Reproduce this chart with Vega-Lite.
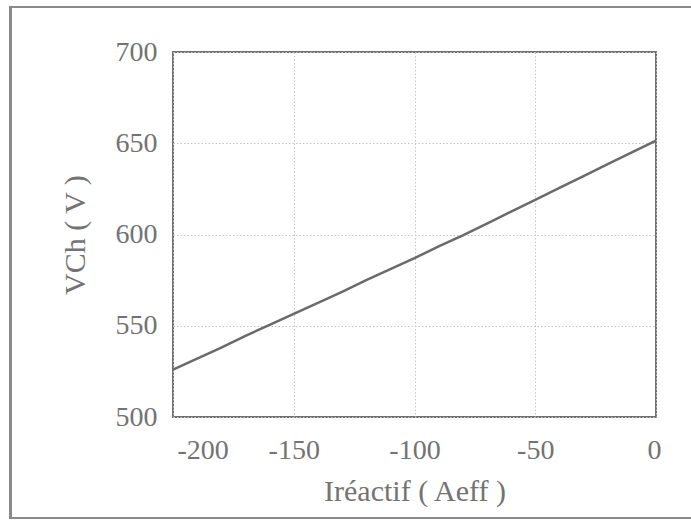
{
  "$schema": "https://vega.github.io/schema/vega-lite/v6.json",
  "width": 483,
  "height": 365,
  "autosize": {"type": "none"},
  "padding": {"left": 173, "top": 52, "right": 35, "bottom": 104},
  "background": "white",
  "config": {
    "view": {"stroke": "#707070", "strokeWidth": 2},
    "font": "Liberation Serif",
    "axis": {
      "labelFont": "Liberation Serif",
      "titleFont": "Liberation Serif",
      "labelColor": "#737373",
      "titleColor": "#737373",
      "labelFontSize": 28,
      "titleFontSize": 30,
      "titleFontWeight": "normal",
      "ticks": false,
      "domain": false,
      "grid": true,
      "gridColor": "#c4c4c4",
      "gridOpacity": 1,
      "gridDash": [1.5, 2],
      "gridWidth": 1
    }
  },
  "data": {
    "values": [
      {"I": -200, "V": 526},
      {"I": -190, "V": 532},
      {"I": -180, "V": 538},
      {"I": -170, "V": 544.5},
      {"I": -160, "V": 550.5},
      {"I": -150, "V": 556.5},
      {"I": -140, "V": 562.5},
      {"I": -130, "V": 568.5},
      {"I": -120, "V": 575},
      {"I": -110, "V": 581},
      {"I": -100, "V": 587},
      {"I": -90, "V": 593.5},
      {"I": -80, "V": 599.5},
      {"I": -70, "V": 606},
      {"I": -60, "V": 612.5},
      {"I": -50, "V": 619},
      {"I": -40, "V": 625.5},
      {"I": -30, "V": 632},
      {"I": -20, "V": 638.5},
      {"I": -10, "V": 645},
      {"I": 0, "V": 651.5}
    ]
  },
  "layer": [
    {
      "mark": {"type": "rect", "fill": null, "stroke": "#8a8a8a", "strokeWidth": 2, "clip": false},
      "encoding": {
        "x": {"datum": -267.3, "type": "quantitative"},
        "x2": {"datum": 220},
        "y": {"datum": 724.7, "type": "quantitative"},
        "y2": {"datum": 444.7}
      }
    },
    {
      "mark": {"type": "line", "color": "#6a6a6a", "strokeWidth": 2.5},
      "encoding": {
        "x": {
          "field": "I",
          "type": "quantitative",
          "title": "Iréactif ( Aeff )",
          "scale": {"domain": [-200, 0], "nice": false, "zero": false},
          "axis": {
            "values": [-200, -150, -100, -50, 0],
            "grid": true,
            "labelPadding": 19,
            "labelExpr": "'' + datum.value",
            "labelAlign": {"expr": "datum.value == -200 ? 'left' : 'center'"},
            "labelOffset": {"expr": "datum.value == -200 ? 4 : (datum.value == 0 ? -2 : 0)"},
            "labelFlush": false,
            "titlePadding": 12
          }
        },
        "y": {
          "field": "V",
          "type": "quantitative",
          "title": "VCh ( V )",
          "scale": {"domain": [500, 700], "nice": false, "zero": false},
          "axis": {
            "values": [500, 550, 600, 650, 700],
            "grid": true,
            "labelPadding": 16,
            "labelFlush": false,
            "titlePadding": 25
          }
        }
      }
    }
  ]
}
